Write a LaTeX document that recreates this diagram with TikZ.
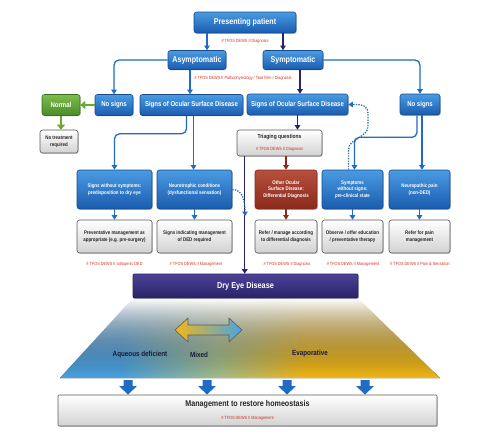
\documentclass[tikz,border=0pt]{standalone}
\usepackage{fontspec}
\setmainfont{Liberation Sans}[FakeStretch=0.85]
\usetikzlibrary{arrows.meta,shadows,fadings,calc}
\definecolor{bluetop}{HTML}{4A9BE3}
\definecolor{bluebot}{HTML}{1A5CAE}
\definecolor{blueline}{HTML}{174A8A}
\definecolor{conblue}{HTML}{1F6CC2}
\definecolor{navy}{HTML}{28246A}
\definecolor{darkred}{HTML}{8A2A1E}
\definecolor{redtop}{HTML}{B5503C}
\definecolor{redbot}{HTML}{8A2A1C}
\definecolor{greentop}{HTML}{7DBE4C}
\definecolor{greenbot}{HTML}{4B8A2B}
\definecolor{greenarr}{HTML}{6AAA30}
\definecolor{grayb}{HTML}{D2D2D2}
\definecolor{grayline}{HTML}{5A5A5A}
\definecolor{tagred}{HTML}{D0301E}
\definecolor{dedtop}{HTML}{4C4296}
\definecolor{dedbot}{HTML}{2A2268}
\definecolor{aq}{HTML}{4BA3E3}
\definecolor{midg}{HTML}{A8C08A}
\definecolor{ev}{HTML}{F2B817}
\definecolor{labtxt}{HTML}{1A1A3A}
\pgfdeclarehorizontalshading{dedshade}{100bp}{color(0bp)=(aq); color(25bp)=(aq); color(33bp)=(aq); color(46bp)=(midg); color(57bp)=(ev); color(75bp)=(ev); color(100bp)=(ev)}
\tikzfading[name=fadeup, top color=transparent!100, bottom color=transparent!0]
\begin{document}
\begin{tikzpicture}[x=1pt,y=-1pt,
  f7/.style={font=\fontsize{8.4}{9.5}\selectfont\bfseries},
  f6/.style={font=\fontsize{7.1}{8}\selectfont\bfseries},
  f5/.style={font=\fontsize{5.2}{6.6}\selectfont\bfseries},
  tag/.style={font=\fontsize{4.5}{5.2}\selectfont, text=tagred, inner sep=0pt},
  bbox/.style={rounded corners=2.5pt, align=center, inner sep=1pt, text=white,
    draw=blueline, line width=0.6pt, top color=bluetop, bottom color=bluebot,
    drop shadow={shadow xshift=0.9pt, shadow yshift=-0.9pt, opacity=0.35}},
  gbox/.style={bbox, top color=white, bottom color=grayb, draw=grayline, text=black!85},
  rbox/.style={bbox, top color=redtop, bottom color=redbot, draw=darkred},
  grbox/.style={bbox, top color=greentop, bottom color=greenbot, draw=greenbot!80!black},
  con/.style={draw=conblue, line width=1.3pt, -{Triangle[width=5.5pt,length=4.5pt]}},
  navycon/.style={con, draw=navy},
  redcon/.style={con, draw=darkred},
  greencon/.style={draw=greenarr, line width=2.8pt, -{Triangle[width=8pt,length=5pt]}},
  dotcon/.style={con, dash pattern=on 1.3pt off 1.3pt},
  lab/.style={text=labtxt, font=\fontsize{7.4}{8.5}\selectfont\bfseries}
]
\useasboundingbox (0,0) rectangle (482,432);

% gradient trapezoid
\fill[shading=dedshade, path fading=fadeup] (133,298) -- (358,298) -- (440,378) -- (60,378) -- cycle;

% top
\node[bbox, f7, minimum width=102pt, minimum height=21pt] (pp) at (245,22.5) {Presenting patient};
\node[tag] (tpp) at (245,41) {\# TFOS DEWS II Diagnosis};
\node[bbox, f7, minimum width=58pt, minimum height=19pt] (asym) at (197,60) {Asymptomatic};
\node[bbox, f7, minimum width=60pt, minimum height=19pt] (sym) at (293,60) {Symptomatic};
\node[tag] (tpath) at (243,78) {\# TFOS DEWS II Pathophysiology / Tear Film / Diagnosis};

% second row
\node[bbox, f6, minimum width=38pt, minimum height=21pt] (nsL) at (114,105) {No signs};
\node[bbox, f6, minimum width=103pt, minimum height=21pt] (osdL) at (191.5,105) {Signs of Ocular Surface Disease};
\node[grbox, f6, minimum width=38pt, minimum height=21pt] (normal) at (61,105) {Normal};
\node[gbox, f5, minimum width=38pt, minimum height=23pt] (ntr) at (59,141.5) {No treatment\\required};
\node[bbox, f6, minimum width=101pt, minimum height=21pt] (osdR) at (297.5,104.5) {Signs of Ocular Surface Disease};
\node[bbox, f6, minimum width=40pt, minimum height=21pt] (nsR) at (420,104.5) {No signs};
\node[gbox, minimum width=85pt, minimum height=26pt] (tri) at (279.5,143)
  {{\fontsize{5.8}{7}\selectfont\bfseries Triaging questions}\\[0.5pt]{\fontsize{4.5}{5.2}\selectfont\color{tagred}\# TFOS DEWS II Diagnosis}};

% third row
\node[bbox, f5, minimum width=75pt, minimum height=39pt] (sws) at (114.5,189.5) {Signs without symptoms:\\predisposition to dry eye};
\node[bbox, f5, minimum width=75pt, minimum height=39pt] (neuro) at (194.5,189.5) {Neurotrophic conditions\\(dysfunctional sensation)};
\node[rbox, f5, minimum width=62pt, minimum height=39pt] (other) at (286,189.5) {Other Ocular\\Surface Disease:\\Differential Diagnosis};
\node[bbox, f5, minimum width=61pt, minimum height=39pt] (symws) at (352.5,189.5) {Symptoms\\without signs:\\pre-clinical state};
\node[bbox, f5, minimum width=61pt, minimum height=39pt] (neurop) at (419.5,189.5) {Neuropathic pain\\(non-DED)};

% grey boxes
\node[gbox, f5, minimum width=75pt, minimum height=33pt] (g1) at (114.5,236.5) {Preventative management as\\appropriate (e.g. pre-surgery)};
\node[gbox, f5, minimum width=75pt, minimum height=33pt] (g2) at (194.5,236.5) {Signs indicating management\\of DED required};
\node[gbox, f5, minimum width=62pt, minimum height=33pt] (g3) at (286,236.5) {Refer / manage according\\to differential diagnosis};
\node[gbox, f5, minimum width=61pt, minimum height=33pt] (g4) at (352.5,236.5) {Observe / offer education\\/ preventative therapy};
\node[gbox, f5, minimum width=61pt, minimum height=33pt] (g5) at (419.5,236.5) {Refer for pain\\management};

\node[tag] (t1) at (114.5,264) {\# TFOS DEWS II Iatrogenic DED};
\node[tag] (t2) at (196,264) {\# TFOS DEWS II Management};
\node[tag] (t3) at (287,264) {\# TFOS DEWS II Diagnosis};
\node[tag] (t4) at (353,264) {\# TFOS DEWS II Management};
\node[tag] (t5) at (420,264) {\# TFOS DEWS II Pain \& Sensation};

% Dry eye disease
\node[bbox, font=\fontsize{8.6}{10}\selectfont\bfseries, rounded corners=1pt, minimum width=225pt, minimum height=24pt, top color=dedtop, bottom color=dedbot, draw=dedbot] (ded) at (245.5,286) {Dry Eye Disease};

% labels in gradient
\node[lab] (aqd) at (140,355) {Aqueous deficient};
\node[lab] (mix) at (199,355) {Mixed};
\node[lab] (evap) at (310,354) {Evaporative};

% double arrow Mixed
\draw[left color=ev, right color=aq, draw=grayline, line width=0.6pt, line join=round]
  (175,330) -- (188,318) -- (188,325) -- (229,325) -- (229,318) -- (242,330)
  -- (229,342) -- (229,335) -- (188,335) -- (188,342) -- cycle;

% management
\node[gbox, rounded corners=1pt, minimum width=379pt, minimum height=31pt] (mgmt) at (247.5,410.5)
  {{\fontsize{8.4}{9.8}\selectfont\bfseries Management to restore homeostasis}\\[0.5pt]{\fontsize{4.5}{5.2}\selectfont\color{tagred}\# TFOS DEWS II Management}};

% block arrows
\foreach \xx in {128,207,287,365}{
  \fill[conblue] (\xx-4.5,380) -- (\xx+4.5,380) -- (\xx+4.5,386) -- (\xx+9,386) -- (\xx,394.5)
    -- (\xx-9,386) -- (\xx-4.5,386) -- cycle;
}

% connectors
\draw[con] ([xshift=-38pt]pp.south) -- ([xshift=-38pt]pp.south |- asym.north);
\draw[navycon] ([xshift=38pt]pp.south) -- ([xshift=38pt]pp.south |- sym.north);
\draw[con, rounded corners=5pt] (asym.west) -| (nsL.north);
\draw[con] ([xshift=-7pt]asym.south) -- ([xshift=-7pt]asym.south |- osdL.north);
\draw[navycon] ([xshift=7pt]sym.south) -- ([xshift=7pt]sym.south |- osdR.north);
\draw[con, rounded corners=5pt] (sym.east) -| (nsR.north);
\draw[greencon] (nsL.west) -- (normal.east);
\draw[greencon] (normal.south) -- (normal.south |- ntr.north);
\draw[con, rounded corners=5pt] ([xshift=-5pt]osdL.south) -- ++(0,18) -| (sws.north);
\draw[con] ([xshift=2pt]osdL.south) -- ([xshift=2pt]osdL.south |- neuro.north);
\draw[navycon] (osdR.south) -- (osdR.south |- tri.north);
\draw[redcon] ([xshift=6.5pt]tri.south) -- ([xshift=6.5pt]tri.south |- other.north);
\draw[navycon] ([xshift=8pt]tri.south west) -- ([xshift=8pt]tri.south west |- ded.north);
\coordinate (merge) at (245,216);
\draw[dotcon] (neuro.east) .. controls (240,189.5) and (245,196) .. (merge);
\draw[con, rounded corners=5pt] ([xshift=-3pt]nsR.south) -- ++(0,22) -| ([xshift=2pt]symws.north);
\draw[con] ([xshift=2pt]nsR.south) -- ([xshift=2pt]nsR.south |- neurop.north);
\draw[dotcon] ([xshift=-4pt]symws.north) -- (348.5,150) .. controls (348.5,138) and (368,138) .. (368,126)
  -- (368,114) .. controls (368,105) and (362,104.5) .. (osdR.east);
\draw[con] (sws.south) -- (g1.north);
\draw[con] (neuro.south) -- (g2.north);
\draw[redcon] (other.south) -- (g3.north);
\draw[con] (symws.south) -- (g4.north);
\draw[con] (neurop.south) -- (g5.north);
\end{tikzpicture}
\end{document}
